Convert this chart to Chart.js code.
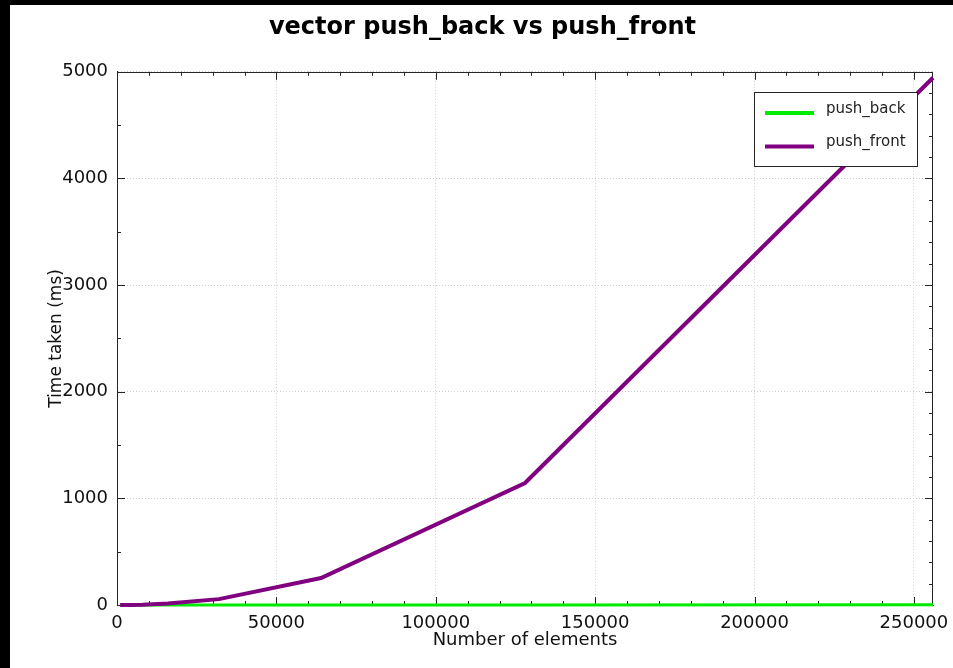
<!DOCTYPE html>
<html lang="en">
<head>
    <meta charset="UTF-8">
    <title>vector push_back vs push_front</title>
    <script src="https://cdn.jsdelivr.net/npm/chart.js"></script>
    <style>
        html, body { margin: 0; padding: 0; background: #000; width: 953px; height: 668px; overflow: hidden; }
        #wrap { position: absolute; left: 10px; top: 5px; width: 943px; height: 663px; background: #fff; }
    </style>
</head>
<body>
    <div id="wrap"><canvas id="graph" width="943" height="663"></canvas></div>

    <script>
        // number of elements pushed
        const elements = [1000, 2000, 4000, 8000, 16000, 32000, 64000, 128000, 256000];
        // time taken (ms)
        const pushBack  = [0, 0, 0, 0.1, 0.1, 0.2, 0.4, 0.8, 1.6];
        const pushFront = [0, 0.1, 0.5, 2.5, 15, 55, 253, 1144, 4944];

        const xTicks = [0, 50000, 100000, 150000, 200000, 250000];
        const yTicks = [0, 1000, 2000, 3000, 4000, 5000];

        const axisColor = '#262626';
        const font = 'DejaVu Sans';

        function toPoints(xs, ys) {
            return xs.map((x, i) => ({ x: x, y: ys[i] }));
        }

        // box around the plot + inward tick marks (octave style)
        const frame = {
            id: 'frame',
            beforeDatasetsDraw(chart) {
                const { ctx, chartArea: a, scales: { x, y } } = chart;
                ctx.save();
                ctx.strokeStyle = axisColor;
                ctx.lineWidth = 1;
                ctx.beginPath();
                ctx.moveTo(a.left, Math.round(a.top) + 0.5);
                ctx.lineTo(a.right, Math.round(a.top) + 0.5);
                ctx.moveTo(Math.round(a.right) - 0.5, a.top);
                ctx.lineTo(Math.round(a.right) - 0.5, a.bottom);
                for (let v = 0; v <= x.max; v += 10000) {
                    const px = Math.round(x.getPixelForValue(v)) + 0.5;
                    const len = v % 50000 === 0 ? 8 : 4;
                    ctx.moveTo(px, a.bottom); ctx.lineTo(px, a.bottom - len);
                    ctx.moveTo(px, a.top); ctx.lineTo(px, a.top + len);
                }
                for (let v = 0; v <= y.max; v += 500) {
                    const py = Math.round(y.getPixelForValue(v)) + 0.5;
                    const len = v % 1000 === 0 ? 8 : 4;
                    ctx.moveTo(a.left, py); ctx.lineTo(a.left + len, py);
                }
                for (let v = 0; v <= y.max; v += 200) {
                    const py = Math.round(y.getPixelForValue(v)) + 0.5;
                    const len = v % 1000 === 0 ? 8 : 4;
                    ctx.moveTo(a.right, py); ctx.lineTo(a.right - len, py);
                }
                ctx.stroke();
                ctx.restore();
            }
        };

        // legend box inside the plot, top right
        const boxLegend = {
            id: 'boxLegend',
            afterDatasetsDraw(chart) {
                const { ctx, chartArea: a } = chart;
                const w = 163, h = 74;
                const bx = Math.round(a.right - 16 - w), by = Math.round(a.top + 20);
                ctx.save();
                ctx.fillStyle = '#fff';
                ctx.fillRect(bx, by, w, h);
                ctx.strokeStyle = axisColor;
                ctx.lineWidth = 1;
                ctx.strokeRect(bx + 0.5, by + 0.5, w, h);
                chart.data.datasets.forEach((ds, i) => {
                    const ly = by + 21 + i * 33.5;
                    ctx.strokeStyle = ds.borderColor;
                    ctx.lineWidth = 4;
                    ctx.beginPath();
                    ctx.moveTo(bx + 11, ly);
                    ctx.lineTo(bx + 60, ly);
                    ctx.stroke();
                    ctx.fillStyle = '#222';
                    ctx.font = '15px "' + font + '"';
                    ctx.textBaseline = 'middle';
                    ctx.fillText(ds.label, bx + 72, ly - 4);
                });
                ctx.restore();
            }
        };

        new Chart(document.getElementById('graph').getContext('2d'), {
            type: 'line',
            data: {
                datasets: [
                    {
                        label: 'push_back',
                        data: toPoints(elements, pushBack),
                        borderColor: 'rgb(0, 235, 0)',
                        borderWidth: 3,
                        pointRadius: 0,
                        tension: 0,
                        clip: false,
                        order: 1
                    },
                    {
                        label: 'push_front',
                        data: toPoints(elements, pushFront),
                        borderColor: '#800080',
                        borderWidth: 4,
                        pointRadius: 0,
                        tension: 0,
                        clip: false,
                        order: 0
                    }
                ]
            },
            options: {
                responsive: false,
                animation: false,
                layout: { padding: { left: 22, right: 20, top: 0, bottom: 0 } },
                plugins: {
                    legend: { display: false },
                    tooltip: { enabled: false },
                    title: {
                        display: true,
                        text: 'vector push_back vs push_front',
                        color: '#000',
                        font: { family: font, size: 24, weight: 'bold' },
                        padding: { top: 8, bottom: 30 }
                    }
                },
                scales: {
                    x: {
                        type: 'linear',
                        min: 0,
                        max: 256000,
                        afterBuildTicks: s => { s.ticks = xTicks.map(v => ({ value: v })); },
                        afterFit: s => { s.height = 63; s.paddingLeft = 0; s.paddingRight = 0; },
                        grid: { color: '#cfcfcf', drawTicks: false },
                        border: { color: axisColor, dash: [1, 2] },
                        ticks: {
                            color: '#111', padding: 8, maxRotation: 0,
                            font: { family: font, size: 18 },
                            callback: v => String(v)
                        },
                        title: {
                            display: true,
                            text: 'Number of elements',
                            color: '#111',
                            font: { family: font, size: 18 },
                            padding: { top: 0, bottom: 17 }
                        }
                    },
                    y: {
                        min: 0,
                        max: 5000,
                        afterBuildTicks: s => { s.ticks = yTicks.map(v => ({ value: v })); },
                        afterFit: s => { s.width = 85; },
                        grid: { color: '#cfcfcf', drawTicks: false },
                        border: { color: axisColor, dash: [1, 2] },
                        ticks: {
                            color: '#111', padding: 9,
                            font: { family: font, size: 18 },
                            callback: v => String(v)
                        },
                        title: {
                            display: true,
                            text: 'Time taken (ms)',
                            color: '#111',
                            font: { family: font, size: 17 },
                            padding: { top: 14, bottom: 4 }
                        }
                    }
                }
            },
            plugins: [frame, boxLegend]
        });
    </script>
</body>
</html>
